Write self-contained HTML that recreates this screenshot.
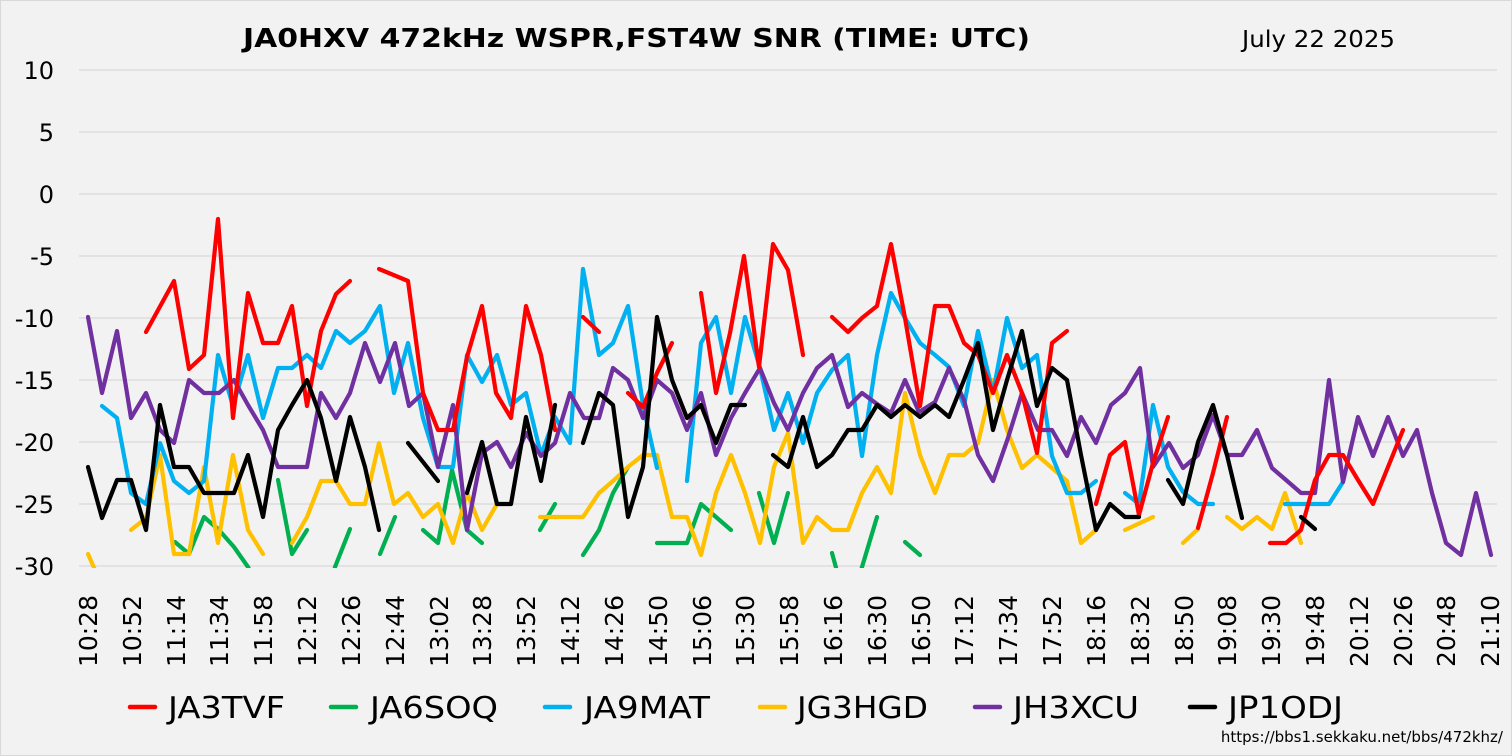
<!DOCTYPE html>
<html><head><meta charset="utf-8"><style>
html,body{margin:0;padding:0;background:#f2f2f2;}
svg{display:block;}
text{font-family:"DejaVu Sans","Liberation Sans",sans-serif;fill:#000;}
</style></head><body>
<svg width="1512" height="756" viewBox="0 0 1512 756" xmlns="http://www.w3.org/2000/svg">
<rect x="0.5" y="0.5" width="1511" height="755" fill="#f2f2f2" stroke="#d9d9d9"/>
<defs><clipPath id="pc"><rect x="79" y="40" width="1420" height="528"/></clipPath></defs>
<g stroke="#d9d9d9" stroke-width="1.3">
<line x1="79" x2="1497" y1="70" y2="70"/><line x1="79" x2="1497" y1="132" y2="132"/>
<line x1="79" x2="1497" y1="194" y2="194"/><line x1="79" x2="1497" y1="256" y2="256"/>
<line x1="79" x2="1497" y1="318" y2="318"/><line x1="79" x2="1497" y1="380" y2="380"/>
<line x1="79" x2="1497" y1="442" y2="442"/><line x1="79" x2="1497" y1="504" y2="504"/>
<line x1="79" x2="1497" y1="566" y2="566"/>
</g>
<g font-size="24" text-anchor="end">
<text x="54" y="79">10</text><text x="54" y="141">5</text><text x="54" y="203">0</text>
<text x="54" y="265">-5</text><text x="54" y="327">-10</text><text x="54" y="389">-15</text>
<text x="54" y="451">-20</text><text x="54" y="513">-25</text><text x="54" y="575">-30</text>
</g>
<text x="243" y="47" font-size="26" font-weight="bold" textLength="787" lengthAdjust="spacingAndGlyphs">JA0HXV 472kHz WSPR,FST4W SNR (TIME: UTC)</text>
<text x="1242" y="47" font-size="23" textLength="153" lengthAdjust="spacingAndGlyphs">July 22 2025</text>
<g font-size="25" text-anchor="end">
<text transform="translate(97,595) rotate(-90)">10:28</text>
<text transform="translate(141,595) rotate(-90)">10:52</text>
<text transform="translate(185,595) rotate(-90)">11:14</text>
<text transform="translate(228,595) rotate(-90)">11:34</text>
<text transform="translate(272,595) rotate(-90)">11:58</text>
<text transform="translate(316,595) rotate(-90)">12:12</text>
<text transform="translate(360,595) rotate(-90)">12:26</text>
<text transform="translate(404,595) rotate(-90)">12:44</text>
<text transform="translate(448,595) rotate(-90)">13:02</text>
<text transform="translate(491,595) rotate(-90)">13:28</text>
<text transform="translate(535,595) rotate(-90)">13:52</text>
<text transform="translate(579,595) rotate(-90)">14:12</text>
<text transform="translate(623,595) rotate(-90)">14:26</text>
<text transform="translate(667,595) rotate(-90)">14:50</text>
<text transform="translate(711,595) rotate(-90)">15:06</text>
<text transform="translate(754,595) rotate(-90)">15:30</text>
<text transform="translate(798,595) rotate(-90)">15:58</text>
<text transform="translate(842,595) rotate(-90)">16:16</text>
<text transform="translate(886,595) rotate(-90)">16:30</text>
<text transform="translate(930,595) rotate(-90)">16:50</text>
<text transform="translate(973,595) rotate(-90)">17:12</text>
<text transform="translate(1017,595) rotate(-90)">17:34</text>
<text transform="translate(1061,595) rotate(-90)">17:52</text>
<text transform="translate(1105,595) rotate(-90)">18:16</text>
<text transform="translate(1149,595) rotate(-90)">18:32</text>
<text transform="translate(1193,595) rotate(-90)">18:50</text>
<text transform="translate(1236,595) rotate(-90)">19:08</text>
<text transform="translate(1280,595) rotate(-90)">19:30</text>
<text transform="translate(1324,595) rotate(-90)">19:48</text>
<text transform="translate(1368,595) rotate(-90)">20:12</text>
<text transform="translate(1412,595) rotate(-90)">20:26</text>
<text transform="translate(1455,595) rotate(-90)">20:48</text>
<text transform="translate(1499,595) rotate(-90)">21:10</text>
</g>
<g clip-path="url(#pc)" fill="none" stroke-width="4.2" stroke-linejoin="round" stroke-linecap="round">
<g stroke="#00b050">
<polyline points="175,542 189,554 204,517 219,530 234,547 248,567 252,575"/>
<polyline points="278,480 292,554 307,530"/>
<polyline points="333,575 335,567 350,529"/>
<polyline points="380,554 395,517"/>
<polyline points="423,530 438,543 452,470 467,530 482,543"/>
<polyline points="540,530 555,504"/>
<polyline points="583,555 599,530 613,493 628,467"/>
<polyline points="657,543 672,543 687,543 701,504 716,517 731,530"/>
<polyline points="759,493 774,543 788,493"/>
<polyline points="832,553 838,575"/>
<polyline points="860,575 862,567 877,517"/>
<polyline points="905,542 920,555"/>
</g>
<g stroke="#ffc000">
<polyline points="88,554 95,570"/>
<polyline points="131,530 146,518 160,455 174,554 189,554 204,467 218,543 233,455 248,530 263,554"/>
<polyline points="292,543 307,517 321,481 336,481 350,504 365,504 379,443 394,504 408,493 423,517 438,504 453,543 467,493 482,530 497,504"/>
<polyline points="540,517 555,517 570,517 583,517 599,493 613,481 628,467 643,455 657,455 672,517 687,517 701,555 716,493 731,455 745,493 760,543 774,467 788,433 803,543 817,517 832,530 848,530 862,493 877,467 891,493 905,393 920,455 935,493 949,455 964,455 978,443 993,380 1007,430 1022,468 1037,455 1052,468 1067,481 1081,543 1096,530"/>
<polyline points="1125,530 1153,517"/>
<polyline points="1183,543 1198,529"/>
<polyline points="1227,517 1242,529 1257,517 1272,529 1285,493 1301,543"/>
</g>
<g stroke="#00b0f0">
<polyline points="102,406 117,418 131,493 146,504 160,443 174,481 189,493 204,481 218,355 233,406 248,355 263,418 278,368 292,368 307,355 321,368 336,331 350,343 365,331 380,306 394,393 408,343 423,418 438,467 453,467 467,355 482,382 497,355 511,405 526,393 541,455 555,417 570,443 583,269 599,355 613,343 628,306 643,405 657,468"/>
<polyline points="687,481 701,343 716,317 731,393 745,317 760,368 774,430 788,393 803,443 817,393 832,370 848,355 862,456 877,355 891,293 905,318 920,343 935,355 949,367 964,406 978,331 993,393 1007,318 1022,368 1037,355 1052,456 1067,493 1081,493 1096,481"/>
<polyline points="1125,493 1139,504 1153,405 1168,467 1183,492 1198,504 1213,504"/>
<polyline points="1285,504 1300,504 1315,504 1329,504 1343,482"/>
</g>
<g stroke="#7030a0">
<polyline points="88,317 102,393 117,331 131,418 146,393 160,430 174,443 189,380 204,393 219,393 234,380 248,405 263,430 278,467 292,467 307,467 321,393 336,418 350,393 365,343 380,382 395,343 409,406 423,393 438,467 453,405 467,530 482,453 497,442 511,467 526,433 541,456 555,443 570,393 584,418 599,418 613,368 628,380 643,418 657,380 672,393 687,430 701,393 716,455 731,418 745,393 760,368 774,403 788,430 803,393 817,368 832,355 848,407 862,393 877,404 891,413 905,380 919,412 935,402 949,368 964,400 978,455 993,481 1008,438 1022,393 1038,430 1052,430 1067,456 1081,417 1096,443 1111,405 1125,393 1140,368 1153,467 1169,443 1183,468 1198,455 1213,415 1227,455 1242,455 1257,430 1272,468 1286,480 1301,493 1315,493 1329,380 1343,482 1358,417 1373,456 1388,417 1403,456 1417,430 1432,493 1446,543 1461,555 1476,493 1491,555"/>
</g>
<g stroke="#ff0000">
<polyline points="146,332 174,281 189,369 204,355 218,219 233,418 248,293 263,343 278,343 292,306 307,406 321,331 336,294 350,281"/>
<polyline points="379,269 408,281 423,393 438,430 453,430 467,357 482,306 496,393 511,418 526,306 541,355 555,430"/>
<polyline points="583,317 599,332"/>
<polyline points="628,393 643,407 657,373 672,343"/>
<polyline points="701,293 716,393 730,333 744,256 759,367 773,244 788,270 803,355"/>
<polyline points="832,317 848,332 862,318 877,306 891,244 905,318 920,406 935,306 949,306 964,343 978,355 993,393 1007,355 1022,393 1037,453 1052,343 1067,331"/>
<polyline points="1096,504 1110,455 1125,442 1139,515 1153,463 1168,417"/>
<polyline points="1198,528 1213,473 1227,417"/>
<polyline points="1270,543 1286,543 1301,530 1315,480 1329,455 1343,455 1358,480 1373,504 1388,467 1403,430"/>
</g>
<g stroke="#000">
<polyline points="88,467 102,518 117,480 131,480 146,530 160,405 174,467 189,467 204,493 219,493 234,493 248,455 263,517 278,430 292,405 307,380 321,418 336,481 350,417 365,467 379,530"/>
<polyline points="408,443 438,481"/>
<polyline points="467,493 482,442 497,504 511,504 526,417 541,481 555,405"/>
<polyline points="583,443 599,393 613,405 628,517 643,467 657,317 672,380 687,418 701,405 716,443 731,405 745,405"/>
<polyline points="773,455 788,467 803,417 817,467 832,455 848,430 862,430 877,405 891,417 905,405 920,417 935,405 949,417 964,380 978,343 993,430 1007,380 1022,331 1037,406 1052,368 1067,380 1081,455 1096,530 1110,504 1125,517 1139,517"/>
<polyline points="1168,480 1183,504 1198,442 1213,405 1227,455 1242,518"/>
<polyline points="1301,517 1315,529"/>
</g>
</g>
<g stroke-width="4.5" stroke-linecap="round">
<line x1="130" x2="155" y1="707" y2="707" stroke="#ff0000"/>
<line x1="331" x2="356" y1="707" y2="707" stroke="#00b050"/>
<line x1="545" x2="570" y1="707" y2="707" stroke="#00b0f0"/>
<line x1="760" x2="785" y1="707" y2="707" stroke="#ffc000"/>
<line x1="975" x2="1000" y1="707" y2="707" stroke="#7030a0"/>
<line x1="1190" x2="1215" y1="707" y2="707" stroke="#000"/>
</g>
<g font-size="30">
<text x="168" y="718" textLength="117" lengthAdjust="spacingAndGlyphs">JA3TVF</text>
<text x="370" y="718" textLength="128" lengthAdjust="spacingAndGlyphs">JA6SOQ</text>
<text x="584" y="718" textLength="126" lengthAdjust="spacingAndGlyphs">JA9MAT</text>
<text x="797" y="718" textLength="131" lengthAdjust="spacingAndGlyphs">JG3HGD</text>
<text x="1013" y="718" textLength="126" lengthAdjust="spacingAndGlyphs">JH3XCU</text>
<text x="1228" y="718" textLength="115" lengthAdjust="spacingAndGlyphs">JP1ODJ</text>
</g>
<text x="1503" y="742" font-size="15" text-anchor="end">https://bbs1.sekkaku.net/bbs/472khz/</text>
</svg>
</body></html>
